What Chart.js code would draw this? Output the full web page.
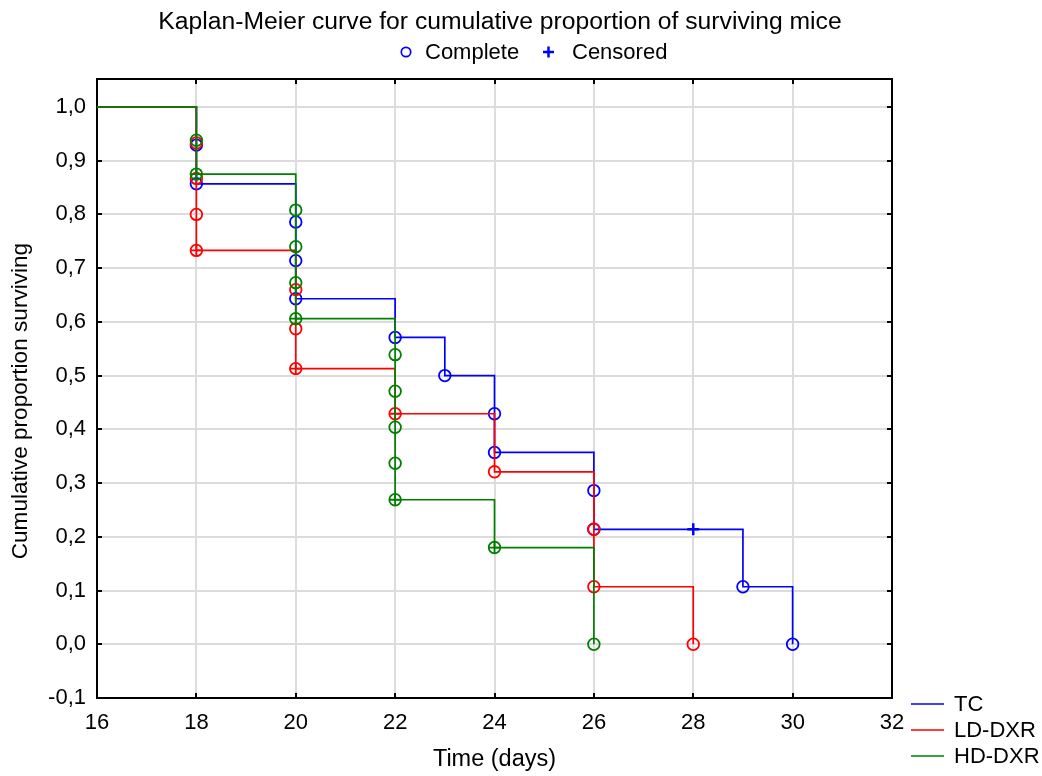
<!DOCTYPE html>
<html><head><meta charset="utf-8">
<script src="https://cdn.jsdelivr.net/npm/chart.js@4.4.1/dist/chart.umd.min.js"></script>
<style>html,body{margin:0;padding:0;background:#fff;}canvas{display:block;}</style>
</head><body>
<canvas id="c" width="1042" height="776"></canvas>
<script>
// ---- data ----
const chartTitle = 'Kaplan-Meier curve for cumulative proportion of surviving mice';
const xTitle = 'Time (days)';
const yTitle = 'Cumulative proportion surviving';
const seriesNames = ['TC', 'LD-DXR', 'HD-DXR'];
const seriesColors = ['#0000ff', '#ff0000', '#008000'];
const xTicks = [16, 18, 20, 22, 24, 26, 28, 30, 32];
const yTicks = [-0.1, 0.0, 0.1, 0.2, 0.3, 0.4, 0.5, 0.6, 0.7, 0.8, 0.9, 1.0];

// step curves (time, survival after event)
const tcStepT = [16, 18, 20, 22, 23, 24, 26, 29, 30];
const tcStepS = [1.0, 0.857, 0.643, 0.571, 0.500, 0.357, 0.214, 0.107, 0.000];
const ldStepT = [16, 18, 20, 22, 24, 26, 28];
const ldStepS = [1.0, 0.733, 0.513, 0.429, 0.321, 0.107, 0.000];
const hdStepT = [16, 18, 20, 22, 24, 26];
const hdStepS = [1.0, 0.875, 0.606, 0.269, 0.180, 0.000];

// complete (event) markers
const tcEventT = [18, 18, 20, 20, 20, 22, 23, 24, 24, 26, 26, 29, 30];
const tcEventS = [0.929, 0.857, 0.786, 0.714, 0.643, 0.571, 0.500, 0.429, 0.357, 0.286, 0.214, 0.107, 0.000];
const ldEventT = [18, 18, 18, 18, 20, 20, 20, 22, 24, 26, 26, 28];
const ldEventS = [0.933, 0.867, 0.800, 0.733, 0.660, 0.587, 0.513, 0.429, 0.321, 0.214, 0.107, 0.000];
const hdEventT = [18, 18, 20, 20, 20, 20, 22, 22, 22, 22, 22, 24, 26];
const hdEventS = [0.938, 0.875, 0.808, 0.740, 0.673, 0.606, 0.539, 0.471, 0.404, 0.337, 0.269, 0.180, 0.000];

// censored marks
const tcCensT = [28];
const tcCensS = [0.214];
const ldCensT = [18, 20, 22];
const ldCensS = [0.733, 0.513, 0.429];
const hdCensT = [18, 20, 22, 24];
const hdCensS = [0.875, 0.606, 0.269, 0.180];

const FONT = '"Liberation Sans", Arial, sans-serif';
const pts = (t, s) => t.map((v, i) => ({x: v, y: s[i]}));

function stepDs(t, s, c, order) {
  return {type: 'line', data: pts(t, s), borderColor: c, borderWidth: 1.7, stepped: true,
    pointRadius: 0, fill: false, showLine: true, order: order};
}
function eventDs(t, s, c, order) {
  return {type: 'scatter', data: pts(t, s), borderColor: c, backgroundColor: 'rgba(0,0,0,0)',
    pointStyle: 'circle', pointRadius: 5.8, borderWidth: 1.8, showLine: false, order: order};
}
function censDs(t, s, c, order, r, w) {
  return {type: 'scatter', data: pts(t, s), borderColor: c, backgroundColor: c,
    pointStyle: 'cross', pointRadius: r, borderWidth: w, showLine: false, order: order};
}

const datasets = [
  stepDs(hdStepT, hdStepS, seriesColors[2], 0),
  eventDs(hdEventT, hdEventS, seriesColors[2], 0),
  censDs(hdCensT, hdCensS, seriesColors[2], 0, 5.8, 1.8),
  stepDs(ldStepT, ldStepS, seriesColors[1], 1),
  eventDs(ldEventT, ldEventS, seriesColors[1], 1),
  censDs(ldCensT, ldCensS, seriesColors[1], 1, 5.8, 1.8),
  stepDs(tcStepT, tcStepS, seriesColors[0], 2),
  eventDs(tcEventT, tcEventS, seriesColors[0], 2),
  censDs(tcCensT, tcCensS, seriesColors[0], 2, 6, 2.5)
];

const framePlugin = {
  id: 'frame',
  beforeDatasetsDraw(chart) {
    const {ctx, chartArea: a, scales} = chart;
    ctx.save();
    ctx.strokeStyle = '#000';
    ctx.lineWidth = 2;
    ctx.strokeRect(a.left, a.top, a.right - a.left, a.bottom - a.top);
    ctx.beginPath();
    yTicks.forEach(v => {
      const y = Math.round(scales.y.getPixelForValue(v));
      ctx.moveTo(a.left, y); ctx.lineTo(a.left + 5, y);
      ctx.moveTo(a.right, y); ctx.lineTo(a.right - 5, y);
    });
    xTicks.forEach(v => {
      const x = Math.round(scales.x.getPixelForValue(v));
      ctx.moveTo(x, a.bottom); ctx.lineTo(x, a.bottom - 5);
      ctx.moveTo(x, a.top); ctx.lineTo(x, a.top + 5);
    });
    ctx.stroke();
    ctx.restore();
  },
  afterDraw(chart) {
    const ctx = chart.ctx;
    ctx.save();
    ctx.fillStyle = '#000';
    ctx.textBaseline = 'middle';
    // title
    ctx.font = '24.7px ' + FONT;
    ctx.textAlign = 'center';
    ctx.fillText(chartTitle, 500, 22);
    // top legend
    ctx.font = '22px ' + FONT;
    ctx.textAlign = 'left';
    ctx.strokeStyle = seriesColors[0];
    ctx.lineWidth = 1.7;
    ctx.beginPath(); ctx.arc(406, 52, 4.7, 0, Math.PI * 2); ctx.stroke();
    ctx.fillText('Complete', 425, 53);
    ctx.lineWidth = 2.5;
    ctx.beginPath();
    ctx.moveTo(543, 52); ctx.lineTo(554, 52);
    ctx.moveTo(548.5, 46.5); ctx.lineTo(548.5, 57.5);
    ctx.stroke();
    ctx.fillText('Censored', 572, 53);
    // series legend
    const ly = [704, 730, 756];
    seriesNames.forEach((n, i) => {
      ctx.strokeStyle = seriesColors[i];
      ctx.lineWidth = 1.7;
      ctx.beginPath(); ctx.moveTo(911, ly[i]); ctx.lineTo(944, ly[i]); ctx.stroke();
      ctx.fillText(n, 954, ly[i] + 1);
    });
    ctx.restore();
  }
};

new Chart(document.getElementById('c'), {
  data: {datasets: datasets},
  options: {
    responsive: false,
    animation: false,
    events: [],
    layout: {padding: {top: 79, right: 150, bottom: 0, left: 0}},
    plugins: {legend: {display: false}, title: {display: false}, tooltip: {enabled: false}},
    scales: {
      x: {
        type: 'linear', min: 16, max: 32,
        afterBuildTicks: s => { s.ticks = xTicks.map(v => ({value: v})); },
        afterFit: s => { s.height = 78; },
        ticks: {font: {size: 22, family: FONT}, color: '#000', padding: 12, maxRotation: 0, autoSkip: false,
          callback: v => String(v)},
        grid: {color: '#dcdcdc', lineWidth: 2, drawTicks: false},
        border: {display: false},
        title: {display: true, text: xTitle, color: '#000', font: {size: 23.5, family: FONT}, padding: {top: 0, bottom: 2}}
      },
      y: {
        type: 'linear', min: -0.1, max: 1.052,
        afterBuildTicks: s => { s.ticks = yTicks.map(v => ({value: v})); },
        afterFit: s => { s.width = 97; },
        ticks: {font: {size: 22, family: FONT}, color: '#000', padding: 11, autoSkip: false,
          callback: v => v.toFixed(1).replace('.', ',')},
        grid: {color: '#dcdcdc', lineWidth: 2, drawTicks: false},
        border: {display: false},
        title: {display: true, text: yTitle + '    ', color: '#000', font: {size: 22.6, family: FONT}, padding: {top: 7, bottom: 0}}
      }
    }
  },
  plugins: [framePlugin]
});
</script>
</body></html>
